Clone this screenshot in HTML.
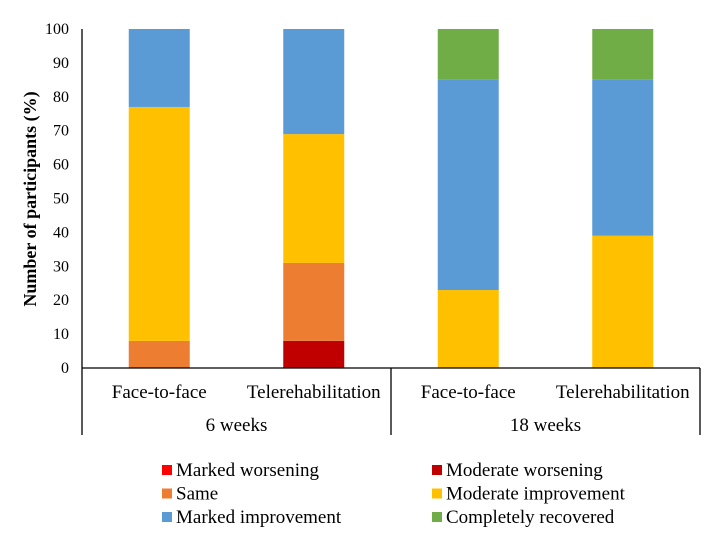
<!DOCTYPE html>
<html><head><meta charset="utf-8"><style>
body{margin:0;background:#fff;}
svg text{font-family:"Liberation Serif",serif;fill:#000;}
</style></head><body>
<svg id="chart" width="715" height="528" xmlns="http://www.w3.org/2000/svg">
<g id="bars"></g>
<g id="axes"></g>
<g id="legend"></g>
</svg>
<script>
const categories = ["Face-to-face","Telerehabilitation","Face-to-face","Telerehabilitation"];
const groups = ["6 weeks","18 weeks"];
const seriesNames = ["Marked worsening","Moderate worsening","Same","Moderate improvement","Marked improvement","Completely recovered"];
const markedWorsening = [0,0,0,0];
const moderateWorsening = [0,8,0,0];
const same = [8,23,0,0];
const moderateImprovement = [69,38,23,39];
const markedImprovement = [23,31,62,46];
const completelyRecovered = [0,0,15,15];
const yTicks = [0,10,20,30,40,50,60,70,80,90,100];

const series = [markedWorsening,moderateWorsening,same,moderateImprovement,markedImprovement,completelyRecovered];
const colors = ["#ff0000","#c00000","#ed7d31","#ffc000","#5b9bd5","#70ad47"];
const NS="http://www.w3.org/2000/svg";
const X0=82, X1=700, Y0=368, Y1=29;
const cw=(X1-X0)/categories.length, bw=61;
const y=v=>Y0-(v/100)*(Y0-Y1);
const xc=i=>X0+cw*(i+0.5);
function mk(tag,attrs,parent,txt){const e=document.createElementNS(NS,tag);for(const k in attrs)e.setAttribute(k,attrs[k]);if(txt!==undefined)e.textContent=txt;parent.appendChild(e);return e;}
const bars=document.getElementById('bars'),axes=document.getElementById('axes'),legend=document.getElementById('legend');
categories.forEach((c,i)=>{
  let acc=0;
  series.forEach((s,k)=>{
    const v=s[i]; if(!v){return;}
    const r=mk('rect',{x:xc(i)-bw/2,y:y(acc+v),width:bw,height:y(acc)-y(acc+v),fill:colors[k]},bars);
    
    
    acc+=v;
  });
});
let l=mk('line',{x1:X0,y1:Y1,x2:X0,y2:435,stroke:'#000','stroke-width':1.3},axes);


l=mk('line',{x1:X0,y1:Y0,x2:X1,y2:Y0,stroke:'#000','stroke-width':1.3},axes);


[X0+cw*2,X1].forEach((xx,j)=>{
  const s=mk('line',{x1:xx,y1:Y0,x2:xx,y2:435,stroke:'#000','stroke-width':1.3},axes);
  
  
});
yTicks.forEach(t=>{
  const e=mk('text',{x:69,y:y(t)+5,'text-anchor':'end','font-size':16},axes,String(t));
  
  
});
categories.forEach((c,i)=>{
  const e=mk('text',{x:xc(i),y:398,'text-anchor':'middle','font-size':19},axes,c);
  
  
});
groups.forEach((g,j)=>{
  const e=mk('text',{x:X0+cw*(2*j+1),y:431,'text-anchor':'middle','font-size':19},axes,g);
  
  
});
const yt=mk('text',{x:0,y:0,'text-anchor':'middle','font-size':18,'font-weight':'bold',transform:'translate(36,199) rotate(-90)'},axes,'Number of participants (%)');


seriesNames.forEach((n,k)=>{
  const col=k%2, row=Math.floor(k/2);
  const lx=col?432:162, ly=470+row*23.5;
  const g=mk('g',{},legend);
  
  
  mk('rect',{x:lx,y:ly-5,width:10,height:10,fill:colors[k]},g);
  mk('text',{x:lx+14,y:ly+6,'font-size':19},g,n);
});
</script>
</body></html>
